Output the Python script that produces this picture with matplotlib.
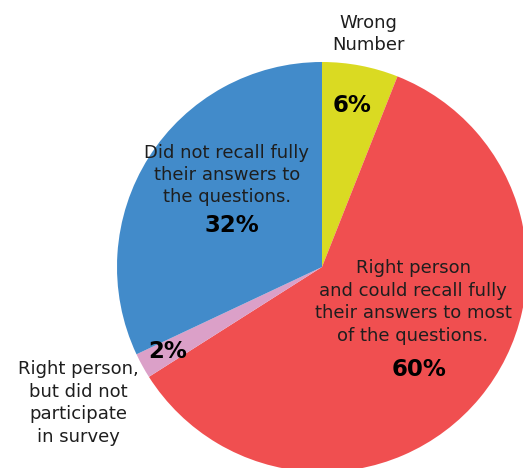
import matplotlib.pyplot as plt

# slices, clockwise from the top
labels = ['Wrong\nNumber',
          'Right person\nand could recall fully\ntheir answers to most\nof the questions.',
          'Right person,\nbut did not\nparticipate\nin survey',
          'Did not recall fully\ntheir answers to\nthe questions.']
values = [6, 60, 2, 32]
colors = ['#DADA22', '#F04F50', '#DBA0C8', '#428BCA']

plt.rcParams['font.family'] = ['DejaVu Sans']

fig = plt.figure(figsize=(5.23, 4.68), dpi=100)
ax = fig.add_axes([0, 0, 1, 1])
H = 468

# pixel coordinates (y measured from the top of the image)
cx, cy, r = 322, 267, 205
ax.pie(values, colors=colors, startangle=90, counterclock=False,
       center=(cx, H - cy), radius=r, wedgeprops=dict(linewidth=0))

ax.set_xlim(0, 523)
ax.set_ylim(0, H)
ax.set_aspect('equal')
ax.axis('off')

txt = dict(ha='center', va='center', color='#1e1e1e', fontsize=13, linespacing=1.32)
pct = dict(ha='center', va='center', color='black', fontsize=16.5, fontweight='bold')

ax.text(368, H - 34, labels[0], **txt)
ax.text(352, H - 105, f'{values[0]}%', **pct)

ax.text(413, H - 302, labels[1], **txt)
ax.text(419, H - 370, f'{values[1]}%', **pct)

ax.text(78, H - 403, labels[2], **txt)
ax.text(168, H - 352, f'{values[2]}%', **pct)

ax.text(227, H - 175, labels[3], **txt)
ax.text(232, H - 226, f'{values[3]}%', **pct)

fig.savefig('out.png', dpi=100)
